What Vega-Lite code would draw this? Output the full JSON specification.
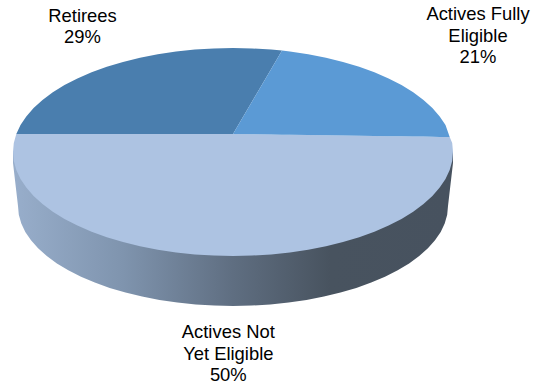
{
  "$schema": "https://vega.github.io/schema/vega-lite/v6.json",
  "width": 540,
  "height": 385,
  "padding": 0,
  "autosize": "none",
  "background": "white",
  "config": {"view": {"stroke": null}},
  "datasets": {
    "shares": [
      {"name": "Retirees", "share": 29, "x": -150.5, "y": 130.3},
      {"name": "Actives Fully|Eligible", "share": 21, "x": 245, "y": 132},
      {"name": "Actives Not|Yet Eligible", "share": 50, "x": -4.7, "y": -186}
    ],
    "wall": [
      {"x": -220, "y": 0, "y2": -11},
      {"x": -215, "y": 0, "y2": -54},
      {"x": -214.2, "y": 0, "y2": -62.7},
      {"x": -211.7, "y": 0, "y2": -71.4},
      {"x": -207.7, "y": 0, "y2": -79.9},
      {"x": -202, "y": 0, "y2": -88.2},
      {"x": -194.9, "y": 0, "y2": -96.3},
      {"x": -186.2, "y": 0, "y2": -104},
      {"x": -176.1, "y": 0, "y2": -111.4},
      {"x": -164.7, "y": 0, "y2": -118.3},
      {"x": -152, "y": 0, "y2": -124.7},
      {"x": -138.2, "y": 0, "y2": -130.6},
      {"x": -123.3, "y": 0, "y2": -135.9},
      {"x": -107.5, "y": 0, "y2": -140.6},
      {"x": -90.9, "y": 0, "y2": -144.6},
      {"x": -73.5, "y": 0, "y2": -148},
      {"x": -55.6, "y": 0, "y2": -150.6},
      {"x": -37.3, "y": 0, "y2": -152.5},
      {"x": -18.7, "y": 0, "y2": -153.6},
      {"x": 0, "y": 0, "y2": -154},
      {"x": 18.7, "y": 0, "y2": -153.6},
      {"x": 37.3, "y": 0, "y2": -152.5},
      {"x": 55.6, "y": 0, "y2": -150.6},
      {"x": 73.5, "y": 0, "y2": -148},
      {"x": 90.9, "y": 0, "y2": -144.6},
      {"x": 107.5, "y": 0, "y2": -140.6},
      {"x": 123.3, "y": 0, "y2": -135.9},
      {"x": 138.2, "y": 0, "y2": -130.6},
      {"x": 152, "y": 0, "y2": -124.7},
      {"x": 164.7, "y": 0, "y2": -118.3},
      {"x": 176.1, "y": 0, "y2": -111.4},
      {"x": 186.2, "y": 0, "y2": -104},
      {"x": 194.9, "y": 0, "y2": -96.3},
      {"x": 202, "y": 0, "y2": -88.2},
      {"x": 207.7, "y": 0, "y2": -79.9},
      {"x": 211.7, "y": 0, "y2": -71.4},
      {"x": 214.2, "y": 0, "y2": -62.7},
      {"x": 215, "y": 0, "y2": -54},
      {"x": 220, "y": 0, "y2": -11}
    ],
    "notYetEligible": [
      {"x": -220, "y": 0, "y2": 0},
      {"x": -219.2, "y": 9.1, "y2": -9.1},
      {"x": -216.7, "y": 18, "y2": -18.1},
      {"x": -212.5, "y": 18, "y2": -26.9},
      {"x": -206.7, "y": 18, "y2": -35.6},
      {"x": -199.4, "y": 18, "y2": -44},
      {"x": -190.5, "y": 18, "y2": -52},
      {"x": -180.2, "y": 18, "y2": -59.7},
      {"x": -168.5, "y": 18, "y2": -66.9},
      {"x": -155.6, "y": 18, "y2": -73.5},
      {"x": -141.4, "y": 18, "y2": -79.7},
      {"x": -126.2, "y": 18, "y2": -85.2},
      {"x": -110, "y": 18, "y2": -90.1},
      {"x": -93, "y": 18, "y2": -94.3},
      {"x": -75.2, "y": 18, "y2": -97.7},
      {"x": -56.9, "y": 18, "y2": -100.5},
      {"x": -38.2, "y": 18, "y2": -102.4},
      {"x": -19.2, "y": 18, "y2": -103.6},
      {"x": 0, "y": 18, "y2": -104},
      {"x": 19.2, "y": 17.7, "y2": -103.6},
      {"x": 38.2, "y": 17.5, "y2": -102.4},
      {"x": 56.9, "y": 17.2, "y2": -100.5},
      {"x": 75.2, "y": 17, "y2": -97.7},
      {"x": 93, "y": 16.7, "y2": -94.3},
      {"x": 110, "y": 16.5, "y2": -90.1},
      {"x": 126.2, "y": 16.3, "y2": -85.2},
      {"x": 141.4, "y": 16, "y2": -79.7},
      {"x": 155.6, "y": 15.8, "y2": -73.5},
      {"x": 168.5, "y": 15.7, "y2": -66.9},
      {"x": 180.2, "y": 15.5, "y2": -59.7},
      {"x": 190.5, "y": 15.4, "y2": -52},
      {"x": 199.4, "y": 15.2, "y2": -44},
      {"x": 206.7, "y": 15.1, "y2": -35.6},
      {"x": 212.5, "y": 15.1, "y2": -26.9},
      {"x": 216.7, "y": 15, "y2": -18.1},
      {"x": 219.2, "y": 9.1, "y2": -9.1},
      {"x": 220, "y": 0, "y2": 0}
    ],
    "retirees": [
      {"x": -216.7, "y": 18, "y2": 18},
      {"x": -212.5, "y": 26.9, "y2": 18},
      {"x": -206.7, "y": 35.6, "y2": 18},
      {"x": -199.4, "y": 44, "y2": 18},
      {"x": -190.5, "y": 52, "y2": 18},
      {"x": -180.2, "y": 59.7, "y2": 18},
      {"x": -168.5, "y": 66.9, "y2": 18},
      {"x": -155.6, "y": 73.5, "y2": 18},
      {"x": -141.4, "y": 79.7, "y2": 18},
      {"x": -126.2, "y": 85.2, "y2": 18},
      {"x": -110, "y": 90.1, "y2": 18},
      {"x": -93, "y": 94.3, "y2": 18},
      {"x": -75.2, "y": 97.7, "y2": 18},
      {"x": -56.9, "y": 100.5, "y2": 18},
      {"x": -38.2, "y": 102.4, "y2": 18},
      {"x": -19.2, "y": 103.6, "y2": 18},
      {"x": 0, "y": 104, "y2": 18},
      {"x": 19.2, "y": 103.6, "y2": 50.7},
      {"x": 38.2, "y": 102.4, "y2": 83},
      {"x": 49, "y": 101.4, "y2": 101.4}
    ],
    "fullyEligible": [
      {"x": 0, "y": 18, "y2": 18},
      {"x": 19.2, "y": 50.7, "y2": 17.7},
      {"x": 38.2, "y": 83, "y2": 17.5},
      {"x": 49, "y": 101.4, "y2": 17.3},
      {"x": 56.9, "y": 100.5, "y2": 17.2},
      {"x": 75.2, "y": 97.7, "y2": 17},
      {"x": 93, "y": 94.3, "y2": 16.7},
      {"x": 110, "y": 90.1, "y2": 16.5},
      {"x": 126.2, "y": 85.2, "y2": 16.3},
      {"x": 141.4, "y": 79.7, "y2": 16},
      {"x": 155.6, "y": 73.5, "y2": 15.8},
      {"x": 168.5, "y": 66.9, "y2": 15.7},
      {"x": 180.2, "y": 59.7, "y2": 15.5},
      {"x": 190.5, "y": 52, "y2": 15.4},
      {"x": 199.4, "y": 44, "y2": 15.2},
      {"x": 206.7, "y": 35.6, "y2": 15.1},
      {"x": 212.5, "y": 26.9, "y2": 15.1},
      {"x": 216.7, "y": 15, "y2": 15}
    ]
  },
  "encoding": {
    "x": {"field": "x", "type": "quantitative", "axis": null, "scale": {"domain": [-233, 307], "nice": false, "zero": false}},
    "y": {"field": "y", "type": "quantitative", "axis": null, "scale": {"domain": [-233, 152], "nice": false, "zero": false}}
  },
  "layer": [
    {
      "data": {"name": "wall"},
      "mark": {
        "type": "area",
        "color": {
          "gradient": "linear",
          "x1": 0, "y1": 0, "x2": 1, "y2": 0,
          "stops": [
            {"offset": 0, "color": "#98aecb"},
            {"offset": 0.25, "color": "#7f94ae"},
            {"offset": 0.5, "color": "#5f6e81"},
            {"offset": 0.72, "color": "#48535f"},
            {"offset": 1, "color": "#47525f"}
          ]
        }
      },
      "encoding": {"y2": {"field": "y2"}}
    },
    {
      "data": {"name": "notYetEligible"},
      "mark": {"type": "area", "color": "#adc3e2"},
      "encoding": {"y2": {"field": "y2"}}
    },
    {
      "data": {"name": "retirees"},
      "mark": {"type": "area", "color": "#4a7eae"},
      "encoding": {"y2": {"field": "y2"}}
    },
    {
      "data": {"name": "fullyEligible"},
      "mark": {"type": "area", "color": "#5b9ad5"},
      "encoding": {"y2": {"field": "y2"}}
    },
    {
      "data": {"name": "shares"},
      "transform": [{"calculate": "datum.name + '|' + datum.share + '%'", "as": "label"}],
      "mark": {
        "type": "text",
        "font": "Liberation Sans",
        "fontSize": 18.4,
        "lineBreak": "|",
        "lineHeight": 21.5,
        "align": "center",
        "baseline": "alphabetic",
        "color": "#000000"
      },
      "encoding": {"text": {"field": "label", "type": "nominal"}}
    }
  ]
}
